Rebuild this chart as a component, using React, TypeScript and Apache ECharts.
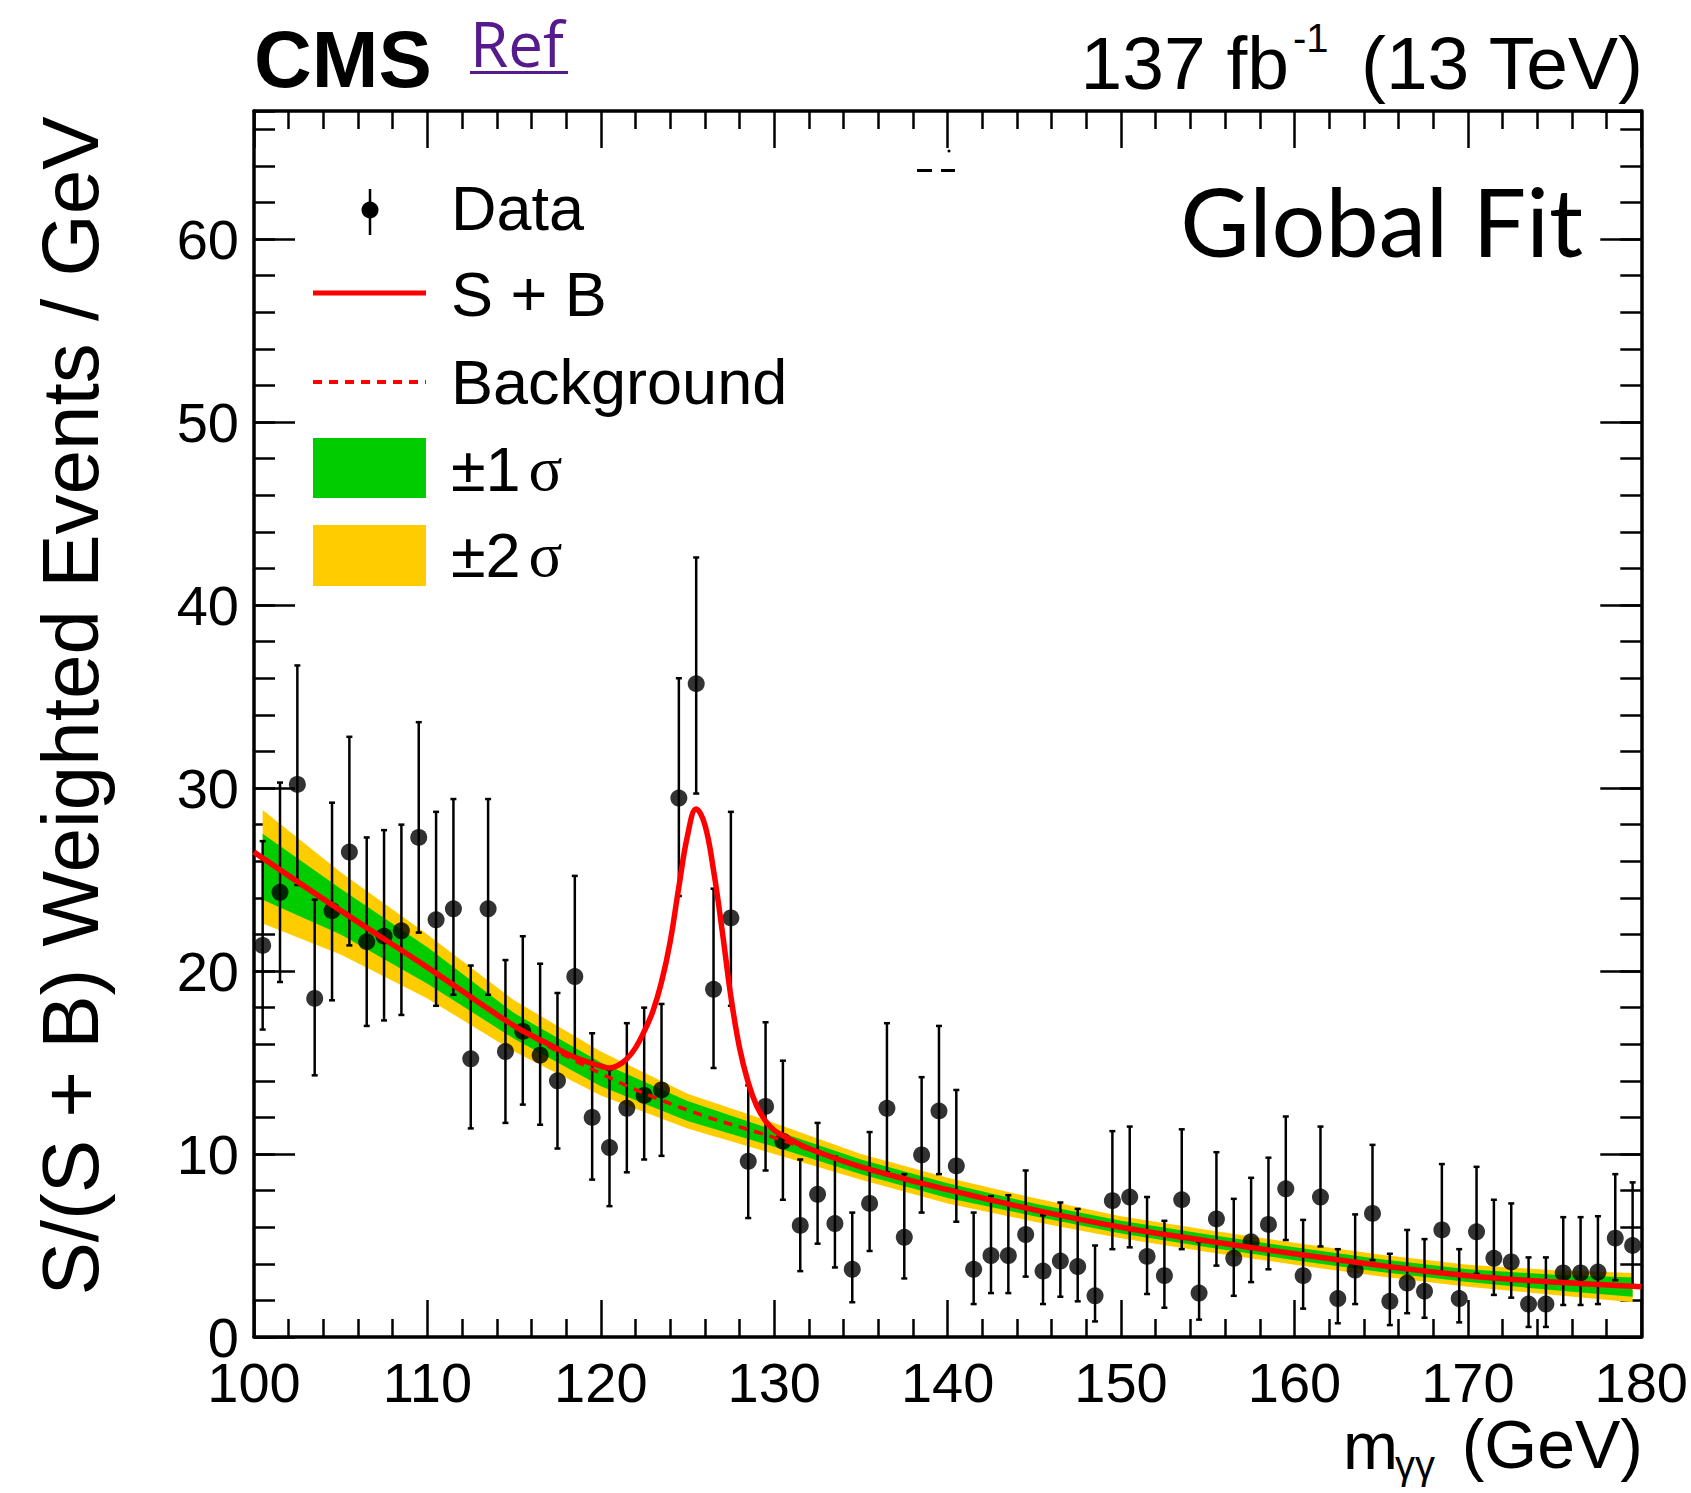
import React, { useEffect, useRef } from "react";
import * as echarts from "echarts";

// ---------- data ----------
const massBins = [
  100.5, 101.5, 102.5, 103.5, 104.5, 105.5, 106.5, 107.5, 108.5, 109.5,
  110.5, 111.5, 112.5, 113.5, 114.5, 115.5, 116.5, 117.5, 118.5, 119.5,
  120.5, 121.5, 122.5, 123.5, 124.5, 125.5, 126.5, 127.5, 128.5, 129.5,
  130.5, 131.5, 132.5, 133.5, 134.5, 135.5, 136.5, 137.5, 138.5, 139.5,
  140.5, 141.5, 142.5, 143.5, 144.5, 145.5, 146.5, 147.5, 148.5, 149.5,
  150.5, 151.5, 152.5, 153.5, 154.5, 155.5, 156.5, 157.5, 158.5, 159.5,
  160.5, 161.5, 162.5, 163.5, 164.5, 165.5, 166.5, 167.5, 168.5, 169.5,
  170.5, 171.5, 172.5, 173.5, 174.5, 175.5, 176.5, 177.5, 178.5, 179.5,
];
const dataY = [
  21.4, 24.3, 30.2, 18.5, 23.3, 26.5, 21.6, 21.9, 22.2, 27.3,
  22.8, 23.4, 15.2, 23.4, 15.6, 16.7, 15.4, 14.0, 19.7, 12.0,
  10.35, 12.5, 13.2, 13.5, 29.45, 35.7, 19.0, 22.9, 9.6, 12.6,
  10.7, 6.1, 7.8, 6.2, 3.7, 7.3, 12.5, 5.45, 9.95, 12.35,
  9.35, 3.7, 4.45, 4.45, 5.6, 3.6, 4.15, 3.85, 2.25, 7.45,
  7.65, 4.4, 3.35, 7.5, 2.4, 6.45, 4.3, 5.2, 6.15, 8.1,
  3.35, 7.65, 2.1, 3.65, 6.75, 1.95, 2.95, 2.5, 5.85, 2.1,
  5.75, 4.3, 4.1, 1.8, 1.8, 3.5, 3.5, 3.55, 5.4, 5.0,
];
const dataLo = [
  16.8, 19.4, 24.7, 14.3, 18.4, 21.4, 17.0, 17.3, 17.6, 22.1,
  18.1, 18.7, 11.4, 18.7, 11.7, 12.7, 11.6, 10.3, 15.3, 8.6,
  7.15, 9.0, 9.7, 9.9, 24.1, 29.7, 14.7, 18.1, 6.5, 9.1,
  7.5, 3.6, 5.1, 3.8, 1.9, 4.7, 9.0, 3.2, 6.8, 8.9,
  6.3, 1.8, 2.4, 2.4, 3.3, 1.8, 2.2, 1.95, 0.85, 4.8,
  4.9, 2.35, 1.6, 4.8, 0.95, 3.9, 2.25, 3.0, 3.7, 5.3,
  1.55, 4.95, 0.75, 1.8, 4.2, 0.65, 1.3, 1.05, 3.5, 0.8,
  3.45, 2.3, 2.15, 0.55, 0.55, 1.75, 1.75, 1.8, 3.1, 2.75,
];
const dataHi = [
  27.1, 30.3, 36.7, 23.9, 29.2, 32.8, 27.3, 27.7, 28.0, 33.6,
  28.7, 29.4, 20.3, 29.4, 20.6, 21.9, 20.4, 18.8, 25.2, 16.6,
  14.6, 17.15, 18.0, 18.2, 36.0, 42.6, 24.5, 28.7, 13.75, 17.2,
  15.1, 9.7, 11.7, 9.85, 6.8, 11.2, 17.15, 8.9, 14.2, 17.0,
  13.5, 6.8, 7.7, 7.75, 9.1, 6.65, 7.35, 7.0, 5.0, 11.25,
  11.5, 7.65, 6.35, 11.35, 5.2, 10.1, 7.55, 8.7, 9.8, 12.05,
  6.4, 11.5, 4.8, 6.7, 10.5, 4.55, 5.85, 5.35, 9.45, 4.8,
  9.3, 7.5, 7.3, 4.35, 4.35, 6.55, 6.55, 6.6, 8.9, 8.45,
];

// background-only fit
const bkgX = [100, 105, 110, 115, 120, 125, 130, 135, 140, 145, 150, 155, 160, 165, 170, 175, 180];
const bkgY = [26.5, 23.3, 20.2, 17.0, 14.4, 12.4, 10.9, 9.3, 8.05, 6.95, 6.0, 5.25, 4.55, 3.9, 3.35, 3.0, 2.75];

// signal + background fit
const sbX = [
  100, 105, 110, 115, 117, 118, 119, 120, 120.5, 121, 121.5, 122, 122.5, 123, 123.5,
  124, 124.5, 125, 125.5, 126, 126.5, 127, 127.5, 128, 128.5, 129, 129.5, 130, 130.5,
  131, 132, 135, 140, 145, 150, 155, 160, 165, 170, 175, 180,
];
const sbY = [
  26.5, 23.3, 20.2, 17.0, 16.0, 15.5, 15.1, 14.8, 14.7, 14.85, 15.2, 15.8, 16.7, 17.8, 19.4,
  21.6, 24.6, 27.4, 28.85, 28.0, 25.5, 22.2, 18.6, 15.8, 13.9, 12.6, 11.8, 11.3, 11.0,
  10.75, 10.3, 9.3, 8.05, 6.95, 6.0, 5.25, 4.55, 3.9, 3.35, 3.0, 2.75,
];

// uncertainty bands on the background
const bandX = [100.5, 105, 110, 115, 120, 125, 130, 135, 140, 145, 150, 155, 160, 165, 170, 175, 179.5];
const band2Lo = [22.6, 20.9, 18.5, 15.6, 13.2, 11.4, 10.0, 8.6, 7.3, 6.3, 5.4, 4.65, 3.95, 3.3, 2.75, 2.3, 1.9];
const band1Lo = [23.9, 22.0, 19.3, 16.3, 13.7, 11.8, 10.4, 8.9, 7.6, 6.6, 5.65, 4.9, 4.2, 3.55, 3.0, 2.55, 2.2];
const band1Hi = [27.5, 24.5, 21.3, 17.7, 15.0, 12.9, 11.3, 9.7, 8.4, 7.3, 6.35, 5.6, 4.9, 4.25, 3.7, 3.4, 3.25];
const band2Hi = [28.8, 25.4, 22.0, 18.4, 15.6, 13.3, 11.7, 10.0, 8.7, 7.6, 6.6, 5.85, 5.15, 4.5, 3.95, 3.65, 3.5];

const xTickLabels = ["100", "110", "120", "130", "140", "150", "160", "170", "180"];
const yTickLabels = ["0", "10", "20", "30", "40", "50", "60"];

// ---------- styling ----------
const SANS = "'Liberation Sans', Arial, Helvetica, sans-serif";
const SERIF = "'Liberation Serif', 'Times New Roman', serif";
const RED = "#ff0000";
const GREEN = "#00cc00";
const YELLOW = "#ffcc00";

function buildOption(): any {
  const axisLineStyle = { color: "#000", width: 3.5 };
  const tickStyle = { color: "#000", width: 2.5 };

  const xCommon = {
    type: "value",
    min: 100,
    max: 180,
    interval: 10,
    splitLine: { show: false },
    axisLine: { show: true, onZero: false, lineStyle: axisLineStyle },
    axisTick: { show: true, inside: true, length: 37, lineStyle: tickStyle },
    minorTick: { show: true, splitNumber: 5, length: 18, lineStyle: tickStyle },
  };
  const yMajor = {
    type: "value",
    min: 0,
    max: 67,
    interval: 10,
    splitLine: { show: false },
    axisLine: { show: true, onZero: false, lineStyle: axisLineStyle },
    axisTick: { show: true, inside: true, length: 41, lineStyle: tickStyle },
  };
  const yMinor = {
    type: "value",
    min: 0,
    max: 67,
    interval: 2,
    splitLine: { show: false },
    axisLine: { show: false },
    axisLabel: { show: false },
    axisTick: { show: true, inside: true, length: 21, lineStyle: tickStyle },
  };

  const text = (x: number, y: number, t: string, size: number, extra: any = {}, styleExtra: any = {}) => ({
    type: "text",
    x,
    y,
    silent: true,
    ...extra,
    style: {
      text: t,
      fill: "#000",
      fontSize: size,
      fontFamily: SANS,
      align: "left",
      textAlign: "left",
      verticalAlign: "middle",
      textVerticalAlign: "middle",
      ...styleExtra,
    },
  });

  const sigmaText = (y: number, label: string) => ({
    type: "text",
    x: 451,
    y,
    silent: true,
    style: {
      text: `{a|${label}}{s|σ}`,
      align: "left",
      textAlign: "left",
      verticalAlign: "middle",
      textVerticalAlign: "middle",
      rich: {
        a: { fontSize: 63, fontFamily: SANS, fill: "#000", color: "#000" },
        s: { fontSize: 63, fontFamily: SERIF, fill: "#000", color: "#000", padding: [0, 0, 0, 8] },
      },
    },
  });

  const graphic: any[] = [
    // header
    text(254, 59, "CMS", 80, {}, { fontWeight: "bold" }),
    text(470, 43, "Ref", 62, {}, { fill: "#551A8B", fontFamily: "'Open Sans', sans-serif" }),
    { type: "rect", silent: true, shape: { x: 470, y: 71, width: 98, height: 3 }, style: { fill: "#551A8B" } },
    text(1643, 63, "(13 TeV)", 75, {}, { align: "right", textAlign: "right" }),
    text(1293, 38, "-1", 40),
    text(1289, 63, "137 fb", 75, {}, { align: "right", textAlign: "right" }),
    // Global Fit
    text(1583, 220, "Global Fit", 95, {}, { align: "right", textAlign: "right", fontFamily: "Lato, 'Open Sans', sans-serif" }),
    // small marks near the top of the frame
    { type: "rect", silent: true, shape: { x: 917, y: 169, width: 15, height: 3 }, style: { fill: "#000" } },
    { type: "rect", silent: true, shape: { x: 941, y: 169, width: 14, height: 3 }, style: { fill: "#000" } },
    { type: "circle", silent: true, shape: { cx: 949, cy: 151, r: 1.5 }, style: { fill: "#000" } },
    // y axis title
    text(70, 706, "S/(S + B) Weighted Events / GeV", 80, { rotation: Math.PI / 2 }, {
      align: "center",
      textAlign: "center",
    }),
    // x axis title
    text(1643, 1444, "(GeV)", 68, {}, { align: "right", textAlign: "right" }),
    text(1343, 1446, "m", 66),
    text(1395, 1465, "γγ", 40, {}, { lineHeight: 30 }),
    // legend
    { type: "line", silent: true, shape: { x1: 370, y1: 189, x2: 370, y2: 235 }, style: { stroke: "#000", lineWidth: 2.5 } },
    { type: "circle", silent: true, shape: { cx: 370, cy: 210, r: 8.5 }, style: { fill: "#000" } },
    text(451, 208, "Data", 63),
    { type: "line", silent: true, shape: { x1: 313, y1: 293, x2: 426, y2: 293 }, style: { stroke: RED, lineWidth: 5 } },
    text(451, 294, "S + B", 63),
    {
      type: "line",
      silent: true,
      shape: { x1: 313, y1: 382, x2: 426, y2: 382 },
      style: { stroke: RED, lineWidth: 4, lineDash: [9, 7] },
    },
    text(451, 382, "Background", 63),
    { type: "rect", silent: true, shape: { x: 313, y: 438, width: 113, height: 60 }, style: { fill: GREEN } },
    sigmaText(469, "±1"),
    { type: "rect", silent: true, shape: { x: 313, y: 525, width: 113, height: 61 }, style: { fill: YELLOW } },
    sigmaText(555, "±2"),
  ];

  return {
    animation: false,
    backgroundColor: "#fff",
    grid: { left: 254, right: 47, top: 111, bottom: 156, containLabel: false },
    xAxis: [
      {
        ...xCommon,
        position: "bottom",
        axisLabel: {
          show: true,
          color: "#000",
          fontSize: 56,
          lineHeight: 40,
          fontFamily: SANS,
          margin: 25,
          formatter: (v: number) => {
            const i = Math.round((v - 100) / 10);
            return xTickLabels[i] ?? "";
          },
        },
      },
      { ...xCommon, position: "top", axisLabel: { show: false } },
    ],
    yAxis: [
      {
        ...yMajor,
        position: "left",
        axisLabel: {
          show: true,
          color: "#000",
          fontSize: 56,
          lineHeight: 40,
          fontFamily: SANS,
          margin: 15,
          showMaxLabel: false,
          formatter: (v: number) => {
            if (v % 10 !== 0) return "";
            return yTickLabels[v / 10] ?? "";
          },
        },
      },
      { ...yMinor, position: "left" },
      { ...yMajor, position: "right", axisLabel: { show: false } },
      { ...yMinor, position: "right" },
    ],
    graphic,
    series: [
      {
        type: "custom",
        name: "bands",
        xAxisIndex: 0,
        yAxisIndex: 0,
        clip: true,
        silent: true,
        data: [[bandX[0], band2Lo[0]]],
        encode: { x: 0, y: 1 },
        renderItem: (params: any, api: any) => {
          if (params.dataIndex !== 0) return null;
          const up2 = bandX.map((x, i) => api.coord([x, band2Hi[i]]));
          const lo2 = bandX.map((x, i) => api.coord([x, band2Lo[i]])).reverse();
          const up1 = bandX.map((x, i) => api.coord([x, band1Hi[i]]));
          const lo1 = bandX.map((x, i) => api.coord([x, band1Lo[i]])).reverse();
          return {
            type: "group",
            children: [
              { type: "polygon", shape: { points: up2.concat(lo2) }, style: { fill: YELLOW } },
              { type: "polygon", shape: { points: up1.concat(lo1) }, style: { fill: GREEN } },
            ],
          };
        },
      },
      {
        type: "line",
        name: "Background",
        silent: true,
        data: bkgX.map((x, i) => [x, bkgY[i]]),
        smooth: 0.4,
        showSymbol: false,
        symbol: "none",
        lineStyle: { color: RED, width: 3.5, type: [9, 7] },
      },
      {
        type: "line",
        name: "S + B",
        silent: true,
        data: sbX.map((x, i) => [x, sbY[i]]),
        smooth: 0.4,
        showSymbol: false,
        symbol: "none",
        lineStyle: { color: RED, width: 5.5 },
      },
      {
        type: "custom",
        name: "errors",
        silent: true,
        data: massBins.map((x, i) => [x, dataLo[i], dataHi[i]]),
        encode: { x: 0, y: [1, 2] },
        renderItem: (params: any, api: any) => {
          const x = api.value(0);
          const p1 = api.coord([x, api.value(1)]);
          const p2 = api.coord([x, api.value(2)]);
          const c = 3;
          const st = { stroke: "#000", lineWidth: 2.5 };
          return {
            type: "group",
            children: [
              { type: "line", shape: { x1: p1[0], y1: p1[1], x2: p2[0], y2: p2[1] }, style: st },
              { type: "line", shape: { x1: p1[0] - c, y1: p1[1], x2: p1[0] + c, y2: p1[1] }, style: st },
              { type: "line", shape: { x1: p2[0] - c, y1: p2[1], x2: p2[0] + c, y2: p2[1] }, style: st },
            ],
          };
        },
      },
      {
        type: "scatter",
        name: "Data",
        silent: true,
        data: massBins.map((x, i) => [x, dataY[i]]),
        symbol: "circle",
        symbolSize: 17,
        itemStyle: { color: "#000" },
      },
    ],
  };
}

export default function App() {
  const ref = useRef<HTMLDivElement>(null);
  useEffect(() => {
    if (!ref.current) return;
    const chart = echarts.init(ref.current, null, { renderer: "svg" });
    chart.setOption(buildOption());
    return () => {
      chart.dispose();
    };
  }, []);
  return (
    <div
      ref={ref}
      style={{ position: "absolute", left: 0, top: 0, width: 1691, height: 1493, background: "#fff" }}
    />
  );
}
